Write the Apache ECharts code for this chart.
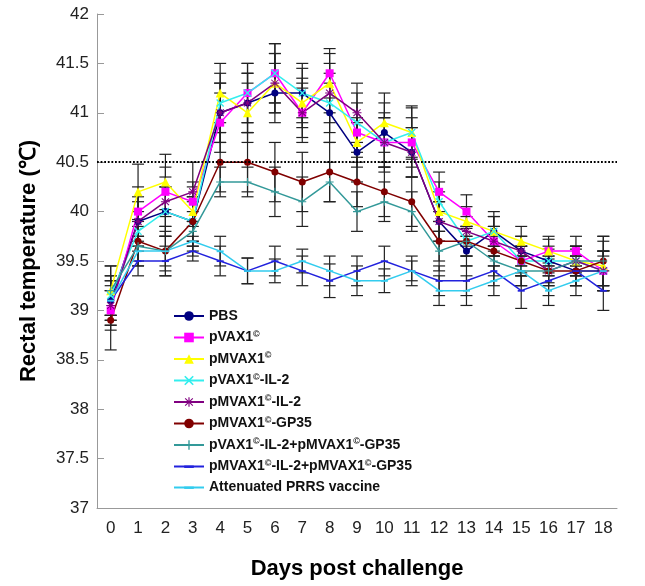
<!DOCTYPE html>
<html>
<head>
<meta charset="utf-8">
<script src="https://cdn.jsdelivr.net/npm/echarts@6/dist/echarts.min.js"></script>
<style>html,body{margin:0;padding:0;background:#fff}#c{width:645px;height:586px}</style>
</head>
<body>
<div id="c"></div>
<script>
const days = ['0','1','2','3','4','5','6','7','8','9','10','11','12','13','14','15','16','17','18'];
const names = ['PBS','pVAX1©','pMVAX1©','pVAX1©-IL-2','pMVAX1©-IL-2','pMVAX1©-GP35','pVAX1©-IL-2+pMVAX1©-GP35','pMVAX1©-IL-2+pMVAX1©-GP35','Attenuated PRRS vaccine'];

const pbs      = [39.1,39.9,40.0,39.9,41.0,41.1,41.2,41.2,41.0,40.6,40.8,40.6,39.9,39.6,39.8,39.6,39.5,39.4,39.4];
const pvax     = [39.0,40.0,40.2,40.1,40.9,41.2,41.4,41.0,41.4,40.8,40.7,40.7,40.2,40.0,39.7,39.5,39.6,39.6,39.4];
const pmvax    = [39.2,40.2,40.3,40.0,41.2,41.0,41.3,41.1,41.3,40.7,40.9,40.8,40.0,39.9,39.8,39.7,39.6,39.5,39.45];
const pvaxIl2  = [39.15,39.8,40.0,39.9,41.1,41.2,41.4,41.2,41.1,40.9,40.7,40.8,40.1,39.7,39.8,39.5,39.5,39.5,39.4];
const pmvaxIl2 = [39.05,39.9,40.1,40.2,41.0,41.1,41.3,41.0,41.2,41.0,40.7,40.6,39.9,39.8,39.7,39.6,39.4,39.5,39.4];
const gp35     = [38.9,39.7,39.6,39.9,40.5,40.5,40.4,40.3,40.4,40.3,40.2,40.1,39.7,39.7,39.6,39.5,39.4,39.4,39.5];
const comboA   = [39.2,39.65,39.6,39.8,40.3,40.3,40.2,40.1,40.3,40.0,40.1,40.0,39.6,39.7,39.5,39.4,39.4,39.5,39.5];
const comboB   = [39.1,39.5,39.5,39.6,39.5,39.4,39.5,39.4,39.3,39.4,39.5,39.4,39.3,39.3,39.4,39.2,39.3,39.4,39.2];
const prrs     = [39.1,39.6,39.6,39.7,39.6,39.4,39.4,39.5,39.4,39.3,39.3,39.4,39.2,39.2,39.3,39.4,39.2,39.3,39.4];

const errPbs      = [0.25,0.20,0.25,0.25,0.30,0.30,0.30,0.30,0.30,0.30,0.30,0.25,0.20,0.15,0.15,0.15,0.15,0.15,0.20];
const errPvax     = [0.20,0.25,0.25,0.20,0.30,0.30,0.30,0.25,0.25,0.30,0.30,0.25,0.20,0.17,0.15,0.15,0.12,0.15,0.20];
const errPmvax    = [0.25,0.28,0.28,0.25,0.30,0.30,0.30,0.25,0.30,0.25,0.30,0.25,0.20,0.15,0.20,0.15,0.15,0.15,0.25];
const errPvaxIl2  = [0.20,0.20,0.25,0.20,0.30,0.30,0.30,0.25,0.30,0.30,0.25,0.27,0.20,0.15,0.15,0.15,0.12,0.15,0.20];
const errPmvaxIl2 = [0.20,0.25,0.25,0.30,0.30,0.30,0.30,0.30,0.30,0.30,0.25,0.25,0.20,0.15,0.15,0.15,0.15,0.15,0.20];
const errGp35     = [0.30,0.20,0.25,0.25,0.30,0.30,0.30,0.30,0.30,0.25,0.25,0.25,0.20,0.15,0.15,0.15,0.15,0.15,0.25];
const errComboA   = [0.25,0.20,0.20,0.20,0.15,0.15,0.25,0.25,0.20,0.20,0.20,0.20,0.20,0.15,0.15,0.15,0.12,0.12,0.25];
const errComboB   = [0.20,0.15,0.15,0.10,0.15,0.13,0.15,0.15,0.17,0.15,0.15,0.15,0.15,0.15,0.15,0.18,0.15,0.15,0.20];
const errPrrs     = [0.20,0.15,0.15,0.15,0.15,0.13,0.12,0.12,0.15,0.15,0.12,0.10,0.15,0.15,0.15,0.15,0.15,0.15,0.15];

const yTicks = ['37','37.5','38','38.5','39','39.5','40','40.5','41','41.5','42'];

const values = [pbs,pvax,pmvax,pvaxIl2,pmvaxIl2,gp35,comboA,comboB,prrs];
const errors = [errPbs,errPvax,errPmvax,errPvaxIl2,errPmvaxIl2,errGp35,errComboA,errComboB,errPrrs];
const colors = ['#000080','#FF00FF','#FFFF00','#33EEEE','#800080','#800000','#339999','#2222DD','#33CCEE'];
const X = 'path://M0,1.2 L1.2,0 L5,3.8 L8.8,0 L10,1.2 L6.2,5 L10,8.8 L8.8,10 L5,6.2 L1.2,10 L0,8.8 L3.8,5 Z';
const PLUS = 'path://M4.3,0 H5.7 V4.3 H10 V5.7 H5.7 V10 H4.3 V5.7 H0 V4.3 H4.3 Z';
const AST = 'path://M4.4,0 H5.6 V3.6 L8.6,0.8 L9.4,1.6 L6.4,4.4 H10 V5.6 H6.4 L9.4,8.4 L8.6,9.2 L5.6,6.4 V10 H4.4 V6.4 L1.4,9.2 L0.6,8.4 L3.6,5.6 H0 V4.4 H3.6 L0.6,1.6 L1.4,0.8 L4.4,3.6 Z';
const DASH = 'path://M0,0 M10,10 M0,4 H10 V6.5 H0 Z';
const symbols = ['circle','rect','triangle',X,AST,'circle',PLUS,DASH,DASH];
const sizes = [7,8,9,8,9,7,8,7,7];

const series = [];
values.forEach((v,i)=>{
  series.push({
    type:'custom', z:1, silent:true,
    data: v.map((y,j)=>[j,y,errors[i][j]]),
    renderItem:function(params,api){
      const x=api.value(0), y=api.value(1), e=api.value(2);
      const t=api.coord([x,y+e]), b=api.coord([x,y-e]);
      const w=6;
      const st={stroke:'#222',lineWidth:1.2};
      return {type:'group',children:[
        {type:'line',shape:{x1:t[0],y1:t[1],x2:b[0],y2:b[1]},style:st},
        {type:'line',shape:{x1:t[0]-w,y1:t[1],x2:t[0]+w,y2:t[1]},style:st},
        {type:'line',shape:{x1:b[0]-w,y1:b[1],x2:b[0]+w,y2:b[1]},style:st}
      ]};
    }
  });
});
values.forEach((v,i)=>{
  const s = {
    type:'line', name:names[i], data:v, z:3,
    symbol:symbols[i], symbolSize:sizes[i], showAllSymbol:true,
    lineStyle:{color:colors[i],width:1.5},
    itemStyle:{color:colors[i]}
  };
  if(i===0){
    s.markLine = {silent:true, symbol:['none','none'], label:{show:false},
      lineStyle:{type:'dotted',color:'#000',width:1.8},
      data:[{yAxis:40.5}]};
  }
  series.push(s);
});

const chart = echarts.init(document.getElementById('c'));
chart.setOption({
  animation:false,
  backgroundColor:'#fff',
  grid:{left:97,right:28,top:14,bottom:78},
  legend:{
    data:names, orient:'vertical', left:168, top:304,
    itemWidth:30, itemHeight:12, itemGap:7,
    textStyle:{fontFamily:'Liberation Sans, Arial',fontSize:14,fontWeight:'bold',color:'#111',
      rich:{sup:{fontSize:9,fontWeight:'bold',verticalAlign:'top',color:'#111',padding:[0,0,6,0]}}},
    formatter:function(n){return n.replace(/©/g,'{sup|©}');}
  },
  xAxis:{
    type:'category', data:days, boundaryGap:true,
    name:'Days post challenge', nameLocation:'middle', nameGap:50,
    nameTextStyle:{fontFamily:'Liberation Sans, Arial',fontSize:22,fontWeight:'bold',color:'#000'},
    axisLine:{lineStyle:{color:'#999',width:1}},
    axisTick:{inside:true,length:7,lineStyle:{color:'#999'}},
    axisLabel:{fontFamily:'Liberation Sans, Arial',fontSize:17,color:'#222',margin:12},
    splitLine:{show:false}
  },
  yAxis:{
    type:'value', min:37, max:42, interval:0.5,
    name:'Rectal temperature (℃)', nameLocation:'middle', nameGap:57,
    nameTextStyle:{fontFamily:'Liberation Sans, Arial',fontSize:22,fontWeight:'bold',color:'#000'},
    axisLine:{show:true,lineStyle:{color:'#999',width:1}},
    axisTick:{show:true,inside:true,length:7,lineStyle:{color:'#999'}},
    axisLabel:{fontFamily:'Liberation Sans, Arial',fontSize:17,color:'#222',margin:8,
      formatter:function(v){const s=String(Math.round(v*10)/10); return yTicks.indexOf(s)>=0?s:'';}},
    splitLine:{show:false}
  },
  series:series
});
</script>
</body>
</html>
